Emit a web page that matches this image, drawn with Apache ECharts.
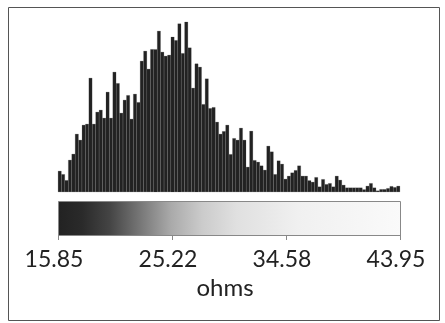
<!DOCTYPE html>
<html>
<head>
<meta charset="utf-8">
<script src="https://cdn.jsdelivr.net/npm/echarts@6/dist/echarts.min.js"></script>
<style>html,body{margin:0;padding:0;background:#fff}#c{width:445px;height:323px}</style>
</head>
<body>
<div id="c"></div>
<script>
// Histogram bin counts (relative heights, 100 bins from 15.85 to 43.95 ohms)
const counts = [
  21, 17.7, 11.7, 32, 38, 58, 52, 67, 68, 114,
  68, 80, 82, 74, 100, 74, 120, 108.7, 79, 92,
  96.7, 73, 98, 89.7, 131, 141, 123, 142.7, 142.7, 161,
  140, 136, 137, 155, 151.7, 168.3, 138.7, 171, 144.3, 104,
  128.3, 125, 87.7, 113.3, 83.7, 84.7, 70, 58, 60.7, 67,
  37.7, 53.7, 52, 64, 52, 25, 61, 31.7, 30, 26.3,
  22, 46, 40.3, 17.7, 31.3, 28, 13, 16, 19.3, 21.7,
  26.3, 16, 16, 11.5, 10, 14.7, 5.3, 12.7, 7.7, 8.7,
  5.3, 16, 12, 7, 4.3, 4.3, 4.3, 4.3, 4.3, 2.5,
  6, 8.7, 4.3, 1.3, 2.7, 2.7, 3.7, 5.7, 4.7, 6
];
const binIndex = counts.map((_, i) => String(i));
const tickLabels = ['15.85', '25.22', '34.58', '43.95'];
const axisName = 'ohms';

const chart = echarts.init(document.getElementById('c'), null, {renderer: 'canvas'});
const font = 'Lato, "Open Sans", sans-serif';
chart.setOption({
  backgroundColor: '#fff',
  animation: false,
  grid: [
    {left: 58, top: 22, width: 342, height: 170},
    {left: 58, top: 201, width: 342, height: 34}
  ],
  xAxis: [
    {gridIndex: 0, type: 'category', data: binIndex, show: false},
    {gridIndex: 1, type: 'category', data: tickLabels, boundaryGap: false,
     axisLine: {show: false},
     axisTick: {show: true, length: 5, lineStyle: {color: '#888', width: 1}},
     axisLabel: {color: '#222', fontFamily: font, fontSize: 23, margin: 13, padding: [0, 8, 0, 0]},
     name: axisName, nameLocation: 'middle', nameGap: 41,
     nameTextStyle: {color: '#222', fontFamily: font, fontSize: 24, padding: [0, 8, 0, 0]}}
  ],
  yAxis: [
    {gridIndex: 0, type: 'value', min: 0, max: 170, show: false},
    {gridIndex: 1, type: 'value', min: 0, max: 1, show: false}
  ],
  series: [{
    type: 'bar', xAxisIndex: 0, yAxisIndex: 0, data: counts,
    barCategoryGap: '0%',
    itemStyle: {color: '#222', borderColor: '#444', borderWidth: 0.2}
  }],
  graphic: [
    {type: 'rect', shape: {x: 58.5, y: 201.5, width: 342, height: 34},
     style: {stroke: '#888', lineWidth: 1,
       fill: new echarts.graphic.LinearGradient(0, 0, 1, 0, [
         {offset: 0, color: '#222'},
         {offset: 0.07, color: '#2a2a2a'},
         {offset: 0.15, color: '#444'},
         {offset: 0.24, color: '#777'},
         {offset: 0.33, color: '#aaa'},
         {offset: 0.42, color: '#cbcbcb'},
         {offset: 0.52, color: '#e0e0e0'},
         {offset: 0.7, color: '#f0f0f0'},
         {offset: 1, color: '#fafafa'}
       ])}},
    {type: 'rect', shape: {x: 8.5, y: 7.5, width: 431, height: 313},
     style: {fill: 'none', stroke: '#555', lineWidth: 1}}
  ]
});
</script>
</body>
</html>
